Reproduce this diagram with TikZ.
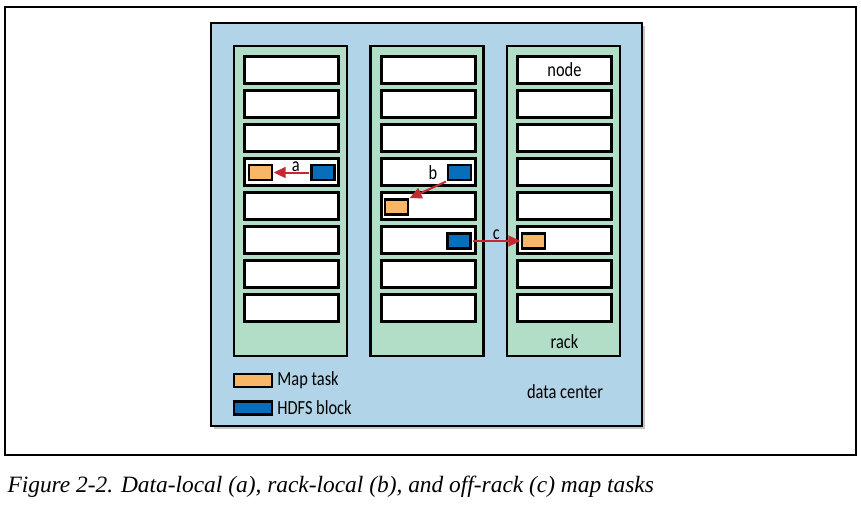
\documentclass[tikz,border=0pt]{standalone}
\usepackage{fontspec}
\setmainfont{Liberation Serif}
\newfontfamily\labelfont[FakeStretch=0.82]{Carlito}
\usetikzlibrary{positioning, arrows.meta, shadows}
\definecolor{centerblue}{RGB}{178,212,232}
\definecolor{rackgreen}{RGB}{178,222,200}
\definecolor{taskorange}{RGB}{247,183,102}
\definecolor{blockblue}{RGB}{6,110,186}
\definecolor{arrowred}{RGB}{196,40,48}
\tikzstyle{Arrow} = [
%red link between a block and its task:
line width = 2pt, draw = arrowred,
-{Triangle[length = 12pt, width = 11pt]},
shorten >= 0.5pt, shorten <= 1pt
]

\begin{document}
\begin{tikzpicture}[x = 1pt, y = -1pt,
			datacenter/.style = {rectangle, draw, line width = 2.4pt, fill = centerblue, minimum width = 431pt, minimum height = 403pt, drop shadow = {shadow xshift = 3pt, shadow yshift = -3pt, opacity = 0.45}},
			rack/.style = {rectangle, draw, line width = 2.4pt, fill = rackgreen, minimum width = 113pt, minimum height = 310pt},
			slot/.style = {rectangle, draw, line width = 3pt, fill = white, minimum width = 94pt, minimum height = 27pt, inner sep = 0pt},
			maptask/.style = {rectangle, draw, line width = 2.4pt, fill = taskorange, minimum width = 23pt, minimum height = 15pt, inner sep = 0pt},
			hdfs/.style = {rectangle, draw, line width = 2.4pt, fill = blockblue, minimum width = 23pt, minimum height = 15pt, inner sep = 0pt},
			legend/.style = {rectangle, draw, line width = 2.4pt, minimum width = 38pt, minimum height = 13pt, inner sep = 0pt},
			txt/.style = {font = \labelfont\fontsize{20}{22}\selectfont, inner sep = 1pt},
		]
		\useasboundingbox (0,0) rectangle (861,512);
		\draw[line width = 1.3pt] (5,7) rectangle (856,455);

		\node[datacenter](DC) at (426.5,224.5){};

		\node[rack](R1) at (290.5,201){};
		\node[rack](R2) at (427,201){};
		\node[rack](R3) at (563.5,201){};

		\node[slot](A1) at (291.5,70){};
		\node[slot](A2) at (291.5,104){};
		\node[slot](A3) at (291.5,138){};
		\node[slot](A4) at (291.5,172){};
		\node[slot](A5) at (291.5,206){};
		\node[slot](A6) at (291.5,240){};
		\node[slot](A7) at (291.5,274){};
		\node[slot](A8) at (291.5,308){};

		\node[slot](B1) at (428,70){};
		\node[slot](B2) at (428,104){};
		\node[slot](B3) at (428,138){};
		\node[slot](B4) at (428,172){};
		\node[slot](B5) at (428,206){};
		\node[slot](B6) at (428,240){};
		\node[slot](B7) at (428,274){};
		\node[slot](B8) at (428,308){};

		\node[slot](C1) at (564.5,70){};
		\node[slot](C2) at (564.5,104){};
		\node[slot](C3) at (564.5,138){};
		\node[slot](C4) at (564.5,172){};
		\node[slot](C5) at (564.5,206){};
		\node[slot](C6) at (564.5,240){};
		\node[slot](C7) at (564.5,274){};
		\node[slot](C8) at (564.5,308){};

		\node[txt] at (C1){node};
		\node[txt](RL) at (564.5,342){rack};
		\node[txt](DL) at (565,392){data center};

		\node[maptask](TA) at (260.5,172.5){};
		\node[hdfs](BA) at (323,172.5){};
		\node[hdfs](BB) at (459.5,172.5){};
		\node[maptask](TB) at (396.5,207){};
		\node[hdfs](BC) at (459,241){};
		\node[maptask](TC) at (533.5,241){};

		\draw[Arrow](BA)--node[txt, midway, above, inner sep = 0pt, xshift = 4pt] {a}(TA);
		\draw[Arrow](BB.south west)--(TB.north east);
		\node[txt](LB) at (433,173){b};
		\draw[Arrow](BC)--node[txt, midway, above, inner sep = 0pt] {c}(TC);

		\node[legend, fill = taskorange](LT) at (253,380.5){};
		\node[legend, fill = blockblue](LH) at (253,408){};
		\node[txt, right = 3pt of LT](LTT){Map task};
		\node[txt, right = 3pt of LH](LHT){HDFS block};

		\node[anchor = west, font = \itshape\fontsize{23.4}{26}\selectfont](CAP) at (4,487){Figure 2-2. Data-local (a), rack-local (b), and off-rack (c) map tasks};

	\end{tikzpicture}
\end{document}
